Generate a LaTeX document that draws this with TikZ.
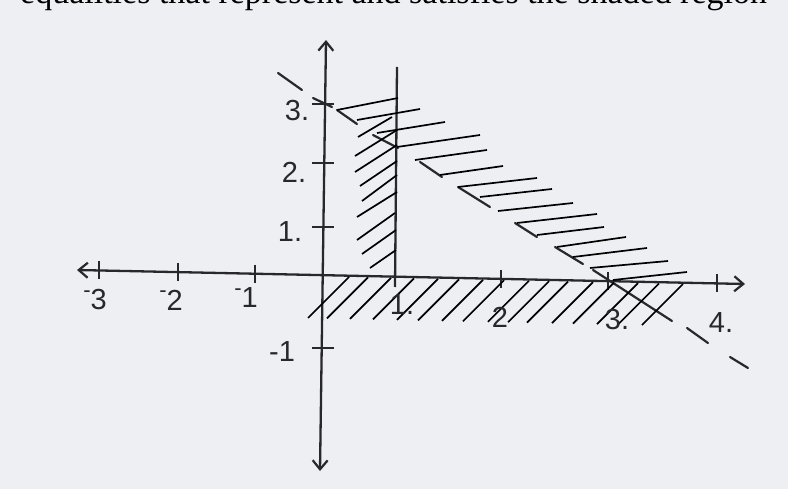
\documentclass[tikz,border=0pt]{standalone}
\usepackage{fontspec}
\setmainfont{Liberation Serif}
\newfontfamily\handfont{Liberation Sans}
\usetikzlibrary{arrows.meta}
\definecolor{paper}{RGB}{238,239,243}
\definecolor{ink}{RGB}{40,40,44}
\begin{document}
\begin{tikzpicture}[x=1pt,y=-1pt,
  >={Straight Barb[length=9pt,width=15pt,line width=2.2pt]},
  axis/.style={draw=ink,line width=2.3pt},
  tickmark/.style={draw=ink,line width=2pt},
  hatch/.style={draw=black,line width=1.7pt},
  bound/.style={draw=ink,line width=2.2pt,line cap=round},
  lbl/.style={text=ink,font=\handfont\fontsize{29}{29}\selectfont,inner sep=0pt}]
\useasboundingbox (0,0) rectangle (788,489);
\clip (0,0) rectangle (788,489);
\fill[paper] (0,0) rectangle (788,489);
% cut-off heading
\node[anchor=base west,inner sep=0pt,font=\fontsize{34}{34}\selectfont] (title) at (20,4) {equalities that represent and satisfies the shaded region};
% axes
\coordinate (xl) at (77,270);
\coordinate (xr) at (745,284);
\coordinate (yb) at (320,471);
\coordinate (yt) at (326,40);
\draw[axis,<->] (xl) -- (xr);
\draw[axis,<->] (yb) -- (yt);
% x ticks
\foreach \t in {99,178,255,501,608,717}
  \draw[tickmark] (\t,{270+0.021*(\t-77)-9}) -- (\t,{270+0.021*(\t-77)+9});
% y ticks
\foreach \t in {104,163,227,348}
  \draw[tickmark] (312,\t) -- (334,\t);
% line x = 1
\coordinate (vt) at (397,67);
\coordinate (vb) at (395,287);
\draw[axis] (vt) -- (vb);
% dashed line x + y = 3
\foreach \a/\b/\c/\d in {278/73/302/90, 313/98/332/107, 337/110/357/124, 373/135/398/148,
  420/162/442/177, 458/187/490/207, 515/223/537/237, 555/247/583/264, 593/270/672/321,
  687/328/708/343, 730/357/748/368}
  \draw[bound] (\a,\b) -- (\c,\d);
% hatching of the sloping band
\foreach \a/\b/\c/\d in {337/110/398/98, 357/120/420/109, 377/133/445/122, 397/147/480/135,
  415/160/487/150, 440/175/503/166, 458/187/537/178, 480/197/552/189, 498/211/573/203,
  517/223/597/214, 537/235/604/227, 557/247/626/237, 573/257/647/248, 590/268/668/261,
  613/280/687/272}
  \draw[hatch] (\a,\b) -- (\c,\d);
% hatching of the strip left of x = 1
\foreach \a/\b/\c/\d in {358/137/392/117, 355/156/397/130, 355/172/397/145, 360/186/397/161,
  362/201/397/175, 357/217/397/192, 357/240/395/213, 362/254/396/230, 370/268/396/250}
  \draw[hatch] (\a,\b) -- (\c,\d);
% hatching below the x axis
\foreach \x in {308,327,350,373,397,418,442,463,488,508,527,552,573,597,618,642}
  \draw[hatch] (\x,{318+0.021*(\x-308)}) -- ({\x+41},{277+0.021*(\x-308)});
% labels on the x axis
\node[lbl] (m3) at (95,300) {\raisebox{0.42em}{\fontsize{22}{22}\selectfont -}3};
\node[lbl] (m2) at (171,300) {\raisebox{0.42em}{\fontsize{22}{22}\selectfont -}2};
\node[lbl] (m1) at (246,298) {\raisebox{0.42em}{\fontsize{22}{22}\selectfont -}1};
\node[lbl] (p1) at (402,305) {1.};
\node[lbl] (p2) at (500,317) {2};
\node[lbl] (p3) at (617,320) {3.};
\node[lbl] (p4) at (721,323) {4.};
% labels on the y axis
\node[lbl] (q3) at (297,111) {3.};
\node[lbl] (q2) at (294,172) {2.};
\node[lbl] (q1) at (290,232) {1.};
\node[lbl] (qm1) at (282,352) {-1};
\end{tikzpicture}
\end{document}
